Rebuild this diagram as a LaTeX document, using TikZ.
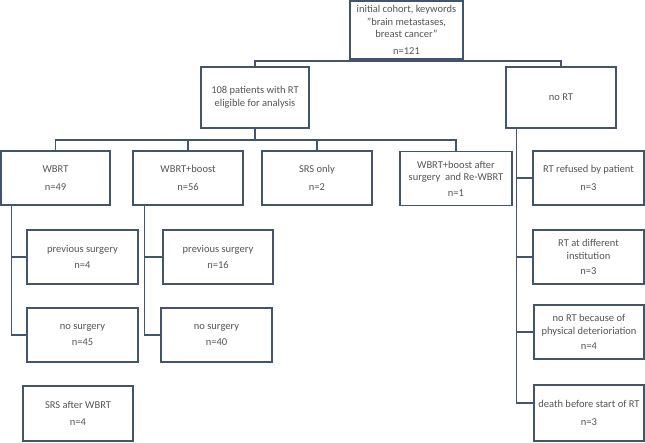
\documentclass[tikz,border=0pt]{standalone}
\usepackage{fontspec}
\setmainfont{Carlito}
\usetikzlibrary{positioning}

\definecolor{boxline}{HTML}{44546A}
\definecolor{boxtext}{HTML}{555555}

\begin{document}
\begin{tikzpicture}[
    x=1pt, y=-1pt,
    % --- Styles ---
    block/.style={
        rectangle,
        draw=boxline,
        fill=white,
        line width=1.5pt,
        minimum width=110pt,
        minimum height=54pt,
        inner sep=1pt,
        align=center,
        text=boxtext,
        font=\fontsize{10.5}{12.5}\selectfont
    },
    link/.style={
        draw=boxline,
        line width=1.5pt
    }
]
\useasboundingbox (0,0) rectangle (645,442);

% --- Nodes (at coordinates) ---
\node[block, minimum width=113pt, minimum height=58pt] (cohort) at (406.5,30)
    {initial cohort, keywords\\"brain metastases,\\breast cancer"\\[4pt]n=121};

\node[block, minimum width=108pt, minimum height=61pt] (rt) at (255,97.5)
    {108 patients with RT\\eligible for analysis};
\node[block, minimum height=61pt] (nort) at (561,97.5) {no RT};

\node[block, minimum width=109pt] (wbrt) at (55.5,178) {WBRT\\[6pt]n=49};
\node[block] (boost) at (188,178) {WBRT+boost\\[6pt]n=56};
\node[block] (srs) at (317,178) {SRS only\\[6pt]n=2};
\node[block, minimum width=112pt] (rewbrt) at (456,178.5)
    {WBRT+boost after\\surgery~ and Re-WBRT\\[3pt]n=1};
\node[block, minimum width=111pt] (refused) at (588.5,178) {RT refused by patient\\[6pt]n=3};

\node[block, minimum width=111pt] (prevA) at (82.5,257) {previous surgery\\[4pt]n=4};
\node[block, minimum width=111pt] (noA) at (82.5,335) {no surgery\\[4pt]n=45};
\node[block] (prevB) at (218,257) {previous surgery\\[4pt]n=16};
\node[block, minimum width=111pt] (noB) at (216.5,335) {no surgery\\[4pt]n=40};
\node[block, minimum height=55pt] (srsafter) at (78,413.5) {SRS after WBRT\\[4pt]n=4};

\node[block, minimum width=111pt] (inst) at (588.5,257) {RT at different\\institution\\[3pt]n=3};
\node[block] (phys) at (589,332) {no RT because of\\physical deterioriation\\[3pt]n=4};
\node[block, minimum height=56pt] (death) at (589,413) {death before start of RT\\[6pt]n=3};

% --- Connectors ---
\coordinate (topbus) at (406.5,61);
\coordinate (rtbus) at (255,140);

\draw[link] (cohort.south) -- (topbus);
\draw[link] (rt.north) |- (topbus) -| (nort.north);

\draw[link] (rt.south) -- (rtbus);
\draw[link] (wbrt.north) |- (rtbus) -| (rewbrt.north);
\draw[link] (boost.north) -- (boost.north |- rtbus);
\draw[link] (srs.north) -- (srs.north |- rtbus);

\draw[link] ([xshift=11pt]wbrt.south west) |- (noA.west);
\draw[link] ([xshift=11pt]wbrt.south west) |- (prevA.west);

\draw[link] ([xshift=12pt]boost.south west) |- (noB.west);
\draw[link] ([xshift=12pt]boost.south west) |- (prevB.west);

\draw[link] ([xshift=11pt]nort.south west) |- ([yshift=10pt]death.west);
\draw[link] ([xshift=11pt]nort.south west) |- (refused.west);
\draw[link] ([xshift=11pt]nort.south west) |- (inst.west);
\draw[link] ([xshift=11pt]nort.south west) |- (phys.west);
\end{tikzpicture}
\end{document}
